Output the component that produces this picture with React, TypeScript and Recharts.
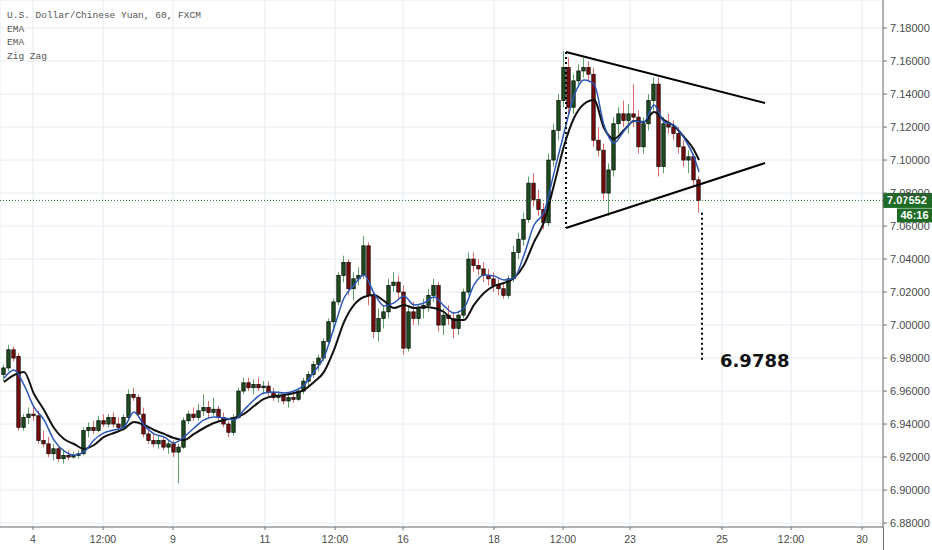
import React from 'react';
import { ComposedChart, Bar, Line, XAxis, YAxis, CartesianGrid, ReferenceLine, ReferenceDot } from 'recharts';

// hourly candles (USD/CNH, 60)
const opens = [
  6.970, 6.974, 6.985, 6.981, 6.938, 6.944, 6.946, 6.945, 6.930, 6.928,
  6.922, 6.925, 6.919, 6.921, 6.920, 6.921, 6.922, 6.936, 6.938, 6.936,
  6.942, 6.940, 6.944, 6.940, 6.938, 6.944, 6.958, 6.956, 6.946, 6.934,
  6.930, 6.928, 6.930, 6.926, 6.928, 6.923, 6.926, 6.942, 6.946, 6.944,
  6.948, 6.950, 6.947, 6.949, 6.944, 6.940, 6.935, 6.944, 6.960, 6.965,
  6.962, 6.964, 6.962, 6.963, 6.959, 6.956, 6.957, 6.954, 6.956, 6.955,
  6.960, 6.966, 6.970, 6.976, 6.980, 6.990, 7.002, 7.014, 7.030, 7.038,
  7.022, 7.028, 7.030, 7.048, 7.018, 6.996, 7.004, 7.008, 7.024, 7.026,
  7.020, 6.986, 7.008, 7.004, 7.010, 7.012, 7.018, 7.024, 7.000, 7.006,
  7.004, 6.998, 7.006, 7.020, 7.040, 7.036, 7.034, 7.030, 7.028, 7.024,
  7.022, 7.018, 7.028, 7.044, 7.052, 7.064, 7.086, 7.076, 7.070, 7.062,
  7.100, 7.118, 7.136, 7.156, 7.132, 7.148, 7.154, 7.156, 7.152, 7.112,
  7.106, 7.080, 7.094, 7.122, 7.128, 7.124, 7.128, 7.126, 7.108, 7.122,
  7.136, 7.146, 7.096, 7.122, 7.120, 7.116, 7.108, 7.100, 7.102, 7.088,
];
const highs = [
  6.976, 6.988, 6.987, 6.983, 6.946, 6.950, 6.951, 6.948, 6.936, 6.932,
  6.928, 6.927, 6.924, 6.924, 6.923, 6.924, 6.938, 6.941, 6.942, 6.945,
  6.946, 6.946, 6.947, 6.944, 6.946, 6.961, 6.962, 6.958, 6.950, 6.938,
  6.934, 6.933, 6.932, 6.930, 6.930, 6.928, 6.944, 6.948, 6.950, 6.952,
  6.958, 6.954, 6.956, 6.951, 6.947, 6.942, 6.946, 6.962, 6.968, 6.968,
  6.967, 6.968, 6.966, 6.966, 6.962, 6.960, 6.959, 6.958, 6.959, 6.962,
  6.968, 6.972, 6.978, 6.982, 6.992, 7.004, 7.016, 7.032, 7.042, 7.040,
  7.032, 7.035, 7.054, 7.050, 7.020, 7.010, 7.012, 7.028, 7.032, 7.030,
  7.024, 7.012, 7.014, 7.012, 7.016, 7.022, 7.028, 7.026, 7.010, 7.012,
  7.008, 7.008, 7.022, 7.044, 7.044, 7.040, 7.038, 7.034, 7.032, 7.028,
  7.026, 7.030, 7.048, 7.056, 7.068, 7.090, 7.092, 7.082, 7.074, 7.104,
  7.122, 7.140, 7.166, 7.162, 7.152, 7.158, 7.162, 7.160, 7.156, 7.120,
  7.110, 7.098, 7.126, 7.132, 7.136, 7.134, 7.146, 7.130, 7.126, 7.140,
  7.150, 7.150, 7.126, 7.128, 7.124, 7.120, 7.112, 7.106, 7.104, 7.090,
];
const lows = [
  6.966, 6.972, 6.978, 6.936, 6.936, 6.940, 6.942, 6.928, 6.926, 6.920,
  6.918, 6.917, 6.916, 6.918, 6.919, 6.919, 6.921, 6.932, 6.934, 6.935,
  6.938, 6.938, 6.938, 6.936, 6.936, 6.943, 6.954, 6.944, 6.932, 6.928,
  6.926, 6.925, 6.924, 6.922, 6.920, 6.904, 6.925, 6.940, 6.942, 6.942,
  6.945, 6.944, 6.945, 6.942, 6.938, 6.932, 6.933, 6.943, 6.958, 6.960,
  6.958, 6.960, 6.958, 6.957, 6.954, 6.953, 6.952, 6.950, 6.953, 6.954,
  6.958, 6.962, 6.968, 6.972, 6.978, 6.988, 6.998, 7.012, 7.026, 7.018,
  7.015, 7.024, 7.028, 7.012, 6.992, 6.990, 6.998, 7.004, 7.020, 7.016,
  6.982, 6.984, 7.000, 7.000, 7.004, 7.008, 7.014, 6.996, 6.994, 7.000,
  6.992, 6.994, 7.004, 7.018, 7.032, 7.030, 7.026, 7.024, 7.020, 7.018,
  7.016, 7.016, 7.026, 7.040, 7.048, 7.062, 7.072, 7.066, 7.058, 7.060,
  7.096, 7.112, 7.132, 7.128, 7.128, 7.144, 7.150, 7.148, 7.108, 7.102,
  7.076, 7.066, 7.090, 7.116, 7.120, 7.116, 7.120, 7.104, 7.104, 7.118,
  7.130, 7.090, 7.092, 7.116, 7.112, 7.104, 7.096, 7.092, 7.084, 7.068,
];
const closes = [
  6.974, 6.985, 6.980, 6.938, 6.944, 6.946, 6.945, 6.930, 6.928, 6.922,
  6.925, 6.919, 6.921, 6.920, 6.921, 6.922, 6.936, 6.938, 6.936, 6.942,
  6.940, 6.944, 6.940, 6.938, 6.944, 6.958, 6.956, 6.946, 6.934, 6.930,
  6.928, 6.930, 6.926, 6.928, 6.923, 6.926, 6.942, 6.946, 6.944, 6.948,
  6.950, 6.947, 6.949, 6.944, 6.940, 6.935, 6.944, 6.960, 6.965, 6.962,
  6.964, 6.962, 6.963, 6.959, 6.956, 6.957, 6.954, 6.956, 6.955, 6.960,
  6.966, 6.970, 6.976, 6.980, 6.990, 7.002, 7.014, 7.030, 7.038, 7.022,
  7.028, 7.030, 7.048, 7.018, 6.996, 7.004, 7.008, 7.024, 7.026, 7.020,
  6.986, 7.008, 7.004, 7.010, 7.012, 7.018, 7.024, 7.000, 7.006, 7.004,
  6.998, 7.006, 7.020, 7.040, 7.036, 7.034, 7.030, 7.028, 7.024, 7.022,
  7.018, 7.028, 7.044, 7.052, 7.064, 7.086, 7.076, 7.070, 7.062, 7.100,
  7.118, 7.136, 7.156, 7.132, 7.148, 7.154, 7.156, 7.152, 7.112, 7.106,
  7.080, 7.094, 7.122, 7.128, 7.124, 7.128, 7.126, 7.108, 7.122, 7.136,
  7.146, 7.096, 7.122, 7.120, 7.116, 7.108, 7.100, 7.102, 7.088, 7.0755,
];

// EMA readings, every second bar (last one on the final bar)
const emaFast = [
  6.9679, 6.9728, 6.9637, 6.9503, 6.9425, 6.9303, 6.9237, 6.9212, 6.9231, 6.9303,
  6.9346, 6.9364, 6.9382, 6.9473, 6.9394, 6.9340, 6.9322, 6.9285, 6.9322, 6.9376,
  6.9425, 6.9443, 6.9437, 6.9425, 6.9485, 6.9546, 6.9588, 6.9594, 6.9588, 6.9600,
  6.9637, 6.9716, 6.9806, 6.9982, 7.0164, 7.0243, 7.0303, 7.0194, 7.0116, 7.0134,
  7.0176, 7.0122, 7.0134, 7.0170, 7.0116, 7.0073, 7.0103, 7.0243, 7.0303, 7.0297,
  7.0273, 7.0285, 7.0425, 7.0606, 7.0685, 7.0922, 7.1164, 7.1388, 7.1485, 7.1461,
  7.1212, 7.1103, 7.1176, 7.1237, 7.1231, 7.1334, 7.1231, 7.1212, 7.1134, 7.1018,
  7.0928,
];
const emaSlow = [
  6.9655, 6.9697, 6.9716, 6.9582, 6.9485, 6.9376, 6.9309, 6.9279, 6.9249, 6.9273,
  6.9322, 6.9346, 6.9370, 6.9412, 6.9394, 6.9364, 6.9340, 6.9315, 6.9303, 6.9340,
  6.9376, 6.9406, 6.9425, 6.9437, 6.9461, 6.9509, 6.9552, 6.9570, 6.9576, 6.9588,
  6.9606, 6.9655, 6.9716, 6.9849, 7.0018, 7.0122, 7.0170, 7.0182, 7.0146, 7.0103,
  7.0122, 7.0103, 7.0109, 7.0103, 7.0079, 7.0031, 7.0031, 7.0122, 7.0194, 7.0237,
  7.0255, 7.0285, 7.0364, 7.0503, 7.0625, 7.0849, 7.1085, 7.1255, 7.1340, 7.1364,
  7.1194, 7.1128, 7.1182, 7.1237, 7.1231, 7.1291, 7.1243, 7.1206, 7.1140, 7.1061,
  7.1000,
];

const xTickBars = [5.8, 19.8, 33.8, 52.2, 66.2, 79.8, 98.0, 111.8, 125.2, 143.6, 157.4, 171.6];
const xTickLabels = ['4', '12:00', '9', '11', '12:00', '16', '18', '12:00', '23', '25', '12:00', '30'];
const yTicks = [6.88, 6.9, 6.92, 6.94, 6.96, 6.98, 7.0, 7.02, 7.04, 7.06, 7.08, 7.1, 7.12, 7.14, 7.16, 7.18];

const lastPrice = 7.07552;
const countdown = '46:16';
const target = 6.9788;

// triangle drawing: [bar, price]
const upperTrend = [[112.4, 7.1655], [152.2, 7.1346]];
const lowerTrend = [[112.4, 7.0588], [152.2, 7.0982]];
const apexDrop = [[112.4, 7.1655], [112.4, 7.0588]];
const breakDrop = [[139.6, 7.068], [139.6, target]];

const emaBars = emaFast.map((_, k) => Math.min(k * 2, closes.length - 1));

const rows = closes.map((c, i) => ({ i, o: opens[i], h: highs[i], l: lows[i], c } as any));
emaBars.forEach((bar, k) => {
  rows[bar].fast = emaFast[k];
  rows[bar].slow = emaSlow[k];
});

const narrow = '"Liberation Sans Narrow", "Liberation Sans", Arial, sans-serif';
const axisGray = '#6e6e6e';
const textGray = '#4a4a4a';
const green = '#1e6b25';

const Candle = (props: any) => {
  const { x, y, width, height, payload } = props;
  const { o, h, l, c } = payload;
  const up = c >= o;
  const top = Math.min(y, y + height);
  const span = Math.abs(height);
  const ppu = span / (h - l);
  const cx = x + width / 2;
  const bodyTop = top + (h - Math.max(o, c)) * ppu;
  const bodyBot = top + (h - Math.min(o, c)) * ppu;
  return (
    <g>
      <line x1={cx} x2={cx} y1={top} y2={top + span} stroke={up ? '#5f9f68' : '#e06a6a'} strokeWidth={1} />
      <rect
        x={cx - 1.7}
        y={bodyTop}
        width={3.4}
        height={Math.max(1, bodyBot - bodyTop)}
        fill={up ? '#1d4f1f' : '#7a0c0c'}
        stroke="#000"
        strokeWidth={0.7}
      />
    </g>
  );
};

const PriceTag = (props: any) => {
  const { viewBox } = props;
  const left = viewBox.x + viewBox.width;
  const yy = viewBox.y;
  return (
    <g>
      <rect x={left} y={yy - 7.5} width={49} height={15} fill={green} />
      <text x={left + 4} y={yy} dominantBaseline="central" fill="#fff" fontSize={11} fontWeight="bold" fontFamily={narrow}>
        {lastPrice.toFixed(5)}
      </text>
      <rect x={left + 14} y={yy + 8} width={35} height={14} fill={green} />
      <text x={left + 31.5} y={yy + 15} textAnchor="middle" dominantBaseline="central" fill="#fff" fontSize={11} fontWeight="bold" fontFamily={narrow}>
        {countdown}
      </text>
    </g>
  );
};

const seg = (pts: number[][]) => pts.map(([x, y]) => ({ x, y }));

export default function App() {
  return (
    <div style={{ position: 'absolute', left: 0, top: 0, width: 932, height: 550, background: '#fff' }}>
      <ComposedChart width={932} height={550} data={rows} margin={{ top: 0, right: 0, bottom: 0, left: 0 }}>
        <CartesianGrid stroke="#e6edf3" ticks={undefined} />
        <XAxis
          type="number"
          dataKey="i"
          domain={[-0.8, 175.8]}
          allowDataOverflow
          ticks={xTickBars}
          interval={0}
          tickFormatter={(_v: number, idx: number) => xTickLabels[idx]}
          height={23}
          tickSize={3}
          tickMargin={6}
          stroke={axisGray}
          tick={{ fontSize: 10.5, fill: textGray, fontFamily: narrow }}
        />
        <YAxis
          orientation="right"
          domain={[6.8776, 7.197]}
          allowDataOverflow
          ticks={yTicks}
          interval={0}
          width={49}
          tickSize={4}
          tickMargin={3}
          stroke={axisGray}
          tickFormatter={(v: number) => v.toFixed(5)}
          tick={{ fontSize: 11, fill: textGray, fontFamily: narrow, textAnchor: 'start' }}
        />
        <Line dataKey="slow" stroke="#111" strokeWidth={2} dot={false} activeDot={false} connectNulls type="monotone" isAnimationActive={false} />
        <Line dataKey="fast" stroke="#2a57b8" strokeWidth={1.5} dot={false} activeDot={false} connectNulls type="monotone" isAnimationActive={false} />
        <Bar dataKey={(d: any) => [d.l, d.h]} barSize={4} shape={<Candle />} isAnimationActive={false} />
        <ReferenceLine segment={seg(upperTrend)} stroke="#000" strokeWidth={2} ifOverflow="visible" />
        <ReferenceLine segment={seg(lowerTrend)} stroke="#000" strokeWidth={2} ifOverflow="visible" />
        <ReferenceLine segment={seg(apexDrop)} stroke="#000" strokeWidth={2} strokeDasharray="2 3" ifOverflow="visible" />
        <ReferenceLine segment={seg(breakDrop)} stroke="#000" strokeWidth={2} strokeDasharray="2 3" ifOverflow="visible" />
        <ReferenceDot
          x={143.2}
          y={target}
          ifOverflow="visible"
          shape={(p: any) => (
            <text x={p.cx} y={p.cy} dominantBaseline="central" fontSize={18} fontWeight="bold" fill="#111" fontFamily='"DejaVu Sans", sans-serif'>
              {target.toFixed(4)}
            </text>
          )}
        />
        <ReferenceLine y={lastPrice} stroke="#2e7d32" strokeDasharray="1 2" label={<PriceTag />} />
      </ComposedChart>
      <div style={{ position: 'absolute', left: 883, top: 527, width: 1, height: 23, background: axisGray }} />
      <div
        style={{
          position: 'absolute',
          left: 7,
          top: 9,
          fontFamily: '"Liberation Mono", "DejaVu Sans Mono", monospace',
          fontSize: 9.5,
          lineHeight: '13.7px',
          color: '#555',
          whiteSpace: 'pre',
        }}
      >
        <div>U.S. Dollar/Chinese Yuan, 60, FXCM</div>
        <div>EMA</div>
        <div>EMA</div>
        <div>Zig Zag</div>
      </div>
    </div>
  );
}
